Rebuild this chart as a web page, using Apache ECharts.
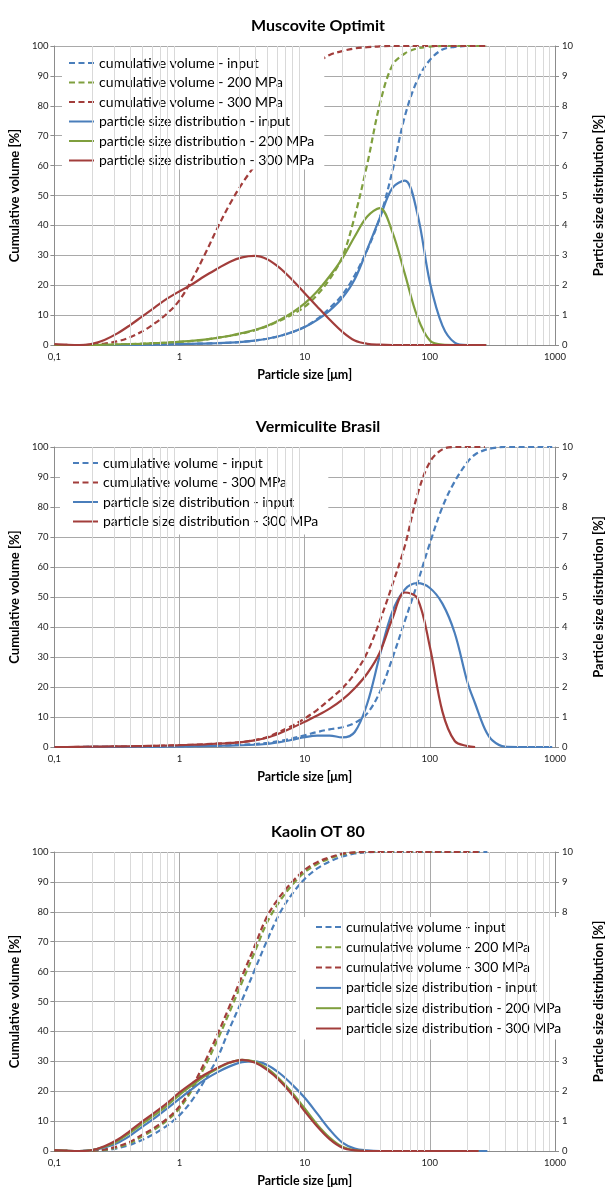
<!DOCTYPE html>
<html lang="en">
<head>
    <meta charset="UTF-8">
    <title>Particle size</title>
    <script src="https://cdn.jsdelivr.net/npm/echarts@6/dist/echarts.min.js"></script>
    <style>
        html, body {
            margin: 0;
            padding: 0;
            background: #fff;
        }
    </style>
</head>
<body>
<div id="main" style="width: 613px;height: 1189px;"></div>
</body>
</html>
<script>
    // ---- Muscovite Optimit ----
    var sizes1 = [0.1, 0.126, 0.158, 0.2, 0.251, 0.316, 0.398, 0.501, 0.631, 0.794, 1, 1.26, 1.58, 2, 2.51, 3.16, 3.98, 5.01, 6.31, 7.94,
        10, 12.6, 15.8, 20, 25.1, 31.6, 39.8, 50.1, 63.1, 79.4, 100, 126, 158, 200, 251, 282];
    var cumInput1 = [0, 0, 0, 0, 0, 0, 0.05, 0.1, 0.15, 0.22, 0.3, 0.38, 0.48, 0.6, 0.78, 1.05, 1.45, 2.1, 3.0, 4.3,
        6.1, 8.7, 12.3, 16.8, 23.3, 31.8, 42.5, 58, 76.5, 88.6, 95.3, 98.8, 99.7, 100, 100, 100];
    var cum200_1 = [0, 0, 0, 0, 0.1, 0.2, 0.3, 0.45, 0.6, 0.8, 1.05, 1.35, 1.7, 2.4, 3.0, 3.8, 4.9, 6.3, 8.1, 10.2,
        12.8, 16.8, 22, 29.5, 43, 60.5, 80.5, 93.5, 97.5, 99.2, 99.8, 100, 100, 100, 100, 100];
    var cum300_1 = [0, 0, 0, 0.1, 0.5, 1.2, 2.5, 4.5, 7.2, 10.5, 15, 22, 30, 39, 47, 54, 60, 66.5, 74, 82,
        90, 94.3, 97, 98.3, 99.2, 99.6, 99.9, 100, 100, 100, 100, 100, 100, 100, 100, 100];
    var psdInput1 = [0, 0, 0, 0, 0, 0, 0.005, 0.01, 0.015, 0.022, 0.03, 0.038, 0.048, 0.06, 0.078, 0.105, 0.145, 0.21, 0.3, 0.43,
        0.6, 0.84, 1.15, 1.58, 2.2, 3.2, 4.25, 5.25, 5.5, 4.4, 2.1, 0.65, 0.08, 0, 0, 0];
    var psd200_1 = [0, 0, 0, 0, 0.01, 0.02, 0.03, 0.04, 0.06, 0.08, 0.11, 0.14, 0.18, 0.24, 0.31, 0.4, 0.5, 0.64, 0.84, 1.08,
        1.39, 1.8, 2.3, 2.9, 3.63, 4.3, 4.58, 3.78, 2.38, 0.95, 0.15, 0.01, 0, 0, 0, 0];
    var psd300_1 = [0.03, 0.01, 0, 0.04, 0.17, 0.38, 0.65, 0.95, 1.25, 1.55, 1.8, 2.03, 2.3, 2.55, 2.78, 2.93, 2.98, 2.87, 2.58, 2.18,
        1.73, 1.28, 0.85, 0.44, 0.15, 0.04, 0.01, 0, 0, 0, 0, 0, 0, 0, 0, 0];

    // ---- Vermiculite Brasil ----
    var sizes2 = [0.1, 0.126, 0.158, 0.2, 0.251, 0.316, 0.398, 0.501, 0.631, 0.794, 1, 1.26, 1.58, 2, 2.51, 3.16, 3.98, 5.01, 6.31, 7.94,
        10, 12.6, 15.8, 20, 25.1, 31.6, 39.8, 50.1, 63.1, 79.4, 100, 126, 158, 200, 230, 275, 316, 398, 501, 631, 794, 950];
    var cumInput2 = [0, 0, 0, 0.02, 0.04, 0.06, 0.08, 0.1, 0.13, 0.16, 0.2, 0.26, 0.34, 0.45, 0.6, 0.8, 1.0, 1.35, 2.0, 2.9,
        3.9, 5.0, 5.9, 6.6, 8.0, 11.2, 18.3, 29.5, 42, 54.5, 67.9, 80, 88.5, 95, 97.5, 99, 99.6, 100, 100, 100, 100, 100];
    var cum300_2 = [0, 0, 0.02, 0.05, 0.08, 0.12, 0.18, 0.25, 0.35, 0.47, 0.6, 0.75, 0.92, 1.12, 1.35, 1.65, 2.3, 3.3, 5.1, 7.1,
        9.5, 12.4, 15.8, 19.6, 24.5, 31.5, 42, 54, 67, 84, 95, 99.2, 100, 100, 100, 100, null, null, null, null, null, null];
    var psdInput2 = [0, 0, 0, 0.003, 0.005, 0.007, 0.009, 0.011, 0.014, 0.017, 0.02, 0.025, 0.03, 0.038, 0.047, 0.058, 0.075, 0.1, 0.16, 0.24,
        0.33, 0.38, 0.38, 0.32, 0.5, 1.45, 3.05, 4.5, 5.25, 5.46, 5.3, 4.78, 3.8, 2.15, 1.45, 0.6, 0.22, 0.01, 0, 0, 0, 0];
    var psd300_2 = [0, 0, 0.005, 0.01, 0.015, 0.02, 0.025, 0.03, 0.04, 0.05, 0.06, 0.075, 0.09, 0.11, 0.13, 0.165, 0.22, 0.31, 0.46, 0.64,
        0.84, 1.05, 1.28, 1.58, 1.96, 2.45, 3.15, 4.27, 5.15, 4.96, 3.34, 1.18, 0.2, 0.03, 0, null, null, null, null, null, null, null];

    // ---- Kaolin OT 80 ----
    var sizes3 = [0.1, 0.126, 0.158, 0.2, 0.251, 0.316, 0.398, 0.501, 0.631, 0.794, 1, 1.26, 1.58, 2, 2.51, 3.16, 3.98, 5.01, 6.31, 7.94,
        10, 12.6, 15.8, 20, 25.1, 31.6, 39.8, 50.1, 63.1, 79.4, 100, 126, 158, 200, 245, 288];
    var cumInput3 = [0, 0, 0, 0.1, 0.3, 0.9, 2, 3.7, 5.8, 8.5, 12, 17, 23.5, 31, 41, 50.5, 60.5, 70.5, 79.5, 86,
        91, 94.5, 96.8, 98.5, 99.5, 99.9, 100, 100, 100, 100, 100, 100, 100, 100, 100, 100];
    var cum200_3 = [0, 0, 0, 0.1, 0.4, 1.2, 2.6, 4.8, 7.2, 10.2, 14.3, 20.5, 28, 37, 46.5, 56.5, 66.5, 76.5, 83.5, 89,
        93.3, 96, 97.8, 99.2, 99.8, 100, 100, 100, 100, 100, 100, 100, 100, 100, 100, null];
    var cum300_3 = [0, 0, 0, 0.1, 0.5, 1.5, 3, 5.4, 7.8, 10.8, 15, 21.5, 29.5, 38.8, 48.5, 58.5, 68.5, 78.5, 85, 90,
        94, 96.6, 98.2, 99.4, 99.9, 100, 100, 100, 100, 100, 100, 100, 100, 100, 100, null];
    var psdInput3 = [0.03, 0.01, 0, 0.03, 0.12, 0.26, 0.5, 0.8, 1.1, 1.42, 1.75, 2.08, 2.38, 2.63, 2.83, 2.97, 3.0, 2.88, 2.6, 2.22,
        1.78, 1.25, 0.72, 0.28, 0.08, 0.02, 0, 0, 0, 0, 0, 0, 0, 0, 0, 0];
    var psd200_3 = [0.03, 0.01, 0, 0.03, 0.14, 0.32, 0.6, 0.9, 1.2, 1.52, 1.88, 2.2, 2.5, 2.75, 2.95, 3.05, 2.99, 2.76, 2.4, 1.95,
        1.42, 0.88, 0.45, 0.14, 0.03, 0, 0, 0, 0, 0, 0, 0, 0, 0, 0, null];
    var psd300_3 = [0.03, 0.01, 0, 0.03, 0.16, 0.37, 0.66, 0.98, 1.28, 1.6, 1.96, 2.27, 2.55, 2.78, 2.96, 3.05, 2.96, 2.71, 2.35, 1.88,
        1.33, 0.82, 0.4, 0.11, 0.02, 0, 0, 0, 0, 0, 0, 0, 0, 0, 0, null];

    var titles = ['Muscovite Optimit', 'Vermiculite Brasil', 'Kaolin OT 80'];
    var minorX = [0.2, 0.3, 0.4, 0.5, 0.6, 0.7, 0.8, 0.9, 2, 3, 4, 5, 6, 7, 8, 9,
        20, 30, 40, 50, 60, 70, 80, 90, 200, 300, 400, 500, 600, 700, 800, 900];

    var names = {
        cIn: 'cumulative volume - input',
        c200: 'cumulative volume - 200 MPa',
        c300: 'cumulative volume - 300 MPa',
        pIn: 'particle size distribution - input',
        p200: 'particle size distribution - 200 MPa',
        p300: 'particle size distribution - 300 MPa'
    };

    var BLUE = '#4a7ebb', GREEN = '#7f9f3e', RED = '#a23d3b';
    var FONT = 'Lato, "Liberation Sans", sans-serif';
    var GRID_C = '#a9a9a9', MINOR_C = '#d9d9d9';

    // 画布上每个子图的位置
    var grids = [
        {left: 53, right: 40, top: 46, height: 299},
        {left: 53, right: 40, top: 447, height: 300},
        {left: 54, right: 39, top: 852, height: 299}
    ];

    function pairs(xs, ys) {
        var out = [];
        for (var i = 0; i < xs.length; i++) {
            if (ys[i] !== null && ys[i] !== undefined) out.push([xs[i], ys[i]]);
        }
        return out;
    }

    function line(name, g, right, xs, ys, color, dashed) {
        return {
            name: name,
            type: 'line',
            xAxisIndex: g,
            yAxisIndex: g * 2 + (right ? 1 : 0),
            data: pairs(xs, ys),
            smooth: 0.35,
            showSymbol: false,
            symbol: 'none',
            silent: true,
            z: 3,
            lineStyle: {color: color, width: 2.2, type: dashed ? [6, 3.5] : 'solid'},
            itemStyle: {color: color}
        };
    }

    // 次刻度的竖线 (2..9)
    function minorSeries(g) {
        return {
            type: 'line',
            xAxisIndex: g,
            yAxisIndex: g * 2,
            data: [],
            silent: true,
            z: 1,
            markLine: {
                silent: true,
                symbol: 'none',
                label: {show: false},
                lineStyle: {color: MINOR_C, type: 'solid', width: 1},
                animation: false,
                data: minorX.map(function (v) {
                    return {xAxis: v};
                })
            }
        };
    }

    var xAxes = [], yAxes = [], titleOpts = [];
    for (var g = 0; g < 3; g++) {
        xAxes.push({
            type: 'log',
            logBase: 10,
            gridIndex: g,
            min: 0.1,
            max: 1000,
            name: 'Particle size [μm]',
            nameLocation: 'middle',
            nameGap: 23,
            nameTextStyle: {fontFamily: FONT, fontWeight: 'bold', fontSize: 12.5, color: '#000'},
            axisLine: {show: true, lineStyle: {color: '#8c8c8c', width: 1}},
            axisTick: {show: false},
            axisLabel: {
                fontFamily: FONT, fontSize: 9.5, color: '#222', margin: 7,
                formatter: function (v) {
                    return Math.abs(v - 0.1) < 1e-6 ? '0,1' : String(Math.round(v));
                }
            },
            splitLine: {show: true, lineStyle: {color: GRID_C, width: 1}}
        });
        yAxes.push({
            type: 'value',
            gridIndex: g,
            position: 'left',
            min: 0,
            max: 100,
            interval: 10,
            name: 'Cumulative volume [%]',
            nameLocation: 'middle',
            nameRotate: 90,
            nameGap: 26,
            nameTextStyle: {fontFamily: FONT, fontWeight: 'bold', fontSize: 13, color: '#000'},
            axisLine: {show: true, lineStyle: {color: '#8c8c8c', width: 1}},
            axisTick: {show: true, length: 4, lineStyle: {color: '#8c8c8c'}},
            axisLabel: {fontFamily: FONT, fontSize: 9.5, color: '#222', margin: 6},
            splitLine: {show: true, lineStyle: {color: GRID_C, width: 1}}
        });
        yAxes.push({
            type: 'value',
            gridIndex: g,
            position: 'right',
            min: 0,
            max: 10,
            interval: 1,
            name: 'Particle size distribution [%]',
            nameLocation: 'middle',
            nameRotate: 90,
            nameGap: 37,
            nameTextStyle: {fontFamily: FONT, fontWeight: 'bold', fontSize: 13, color: '#000'},
            axisLine: {show: true, lineStyle: {color: '#8c8c8c', width: 1}},
            axisTick: {show: true, length: 4, lineStyle: {color: '#8c8c8c'}},
            axisLabel: {fontFamily: FONT, fontSize: 9.5, color: '#222', margin: 7},
            splitLine: {show: false}
        });
        titleOpts.push({
            text: titles[g],
            left: 313,
            textAlign: 'center',
            top: grids[g].top - 33,
            textStyle: {fontFamily: FONT, fontWeight: 'bold', fontSize: 16, color: '#000'}
        });
    }

    var series = [
        minorSeries(0), minorSeries(1), minorSeries(2),
        // Muscovite
        line(names.cIn, 0, false, sizes1, cumInput1, BLUE, true),
        line(names.c200, 0, false, sizes1, cum200_1, GREEN, true),
        line(names.c300, 0, false, sizes1, cum300_1, RED, true),
        line(names.pIn, 0, true, sizes1, psdInput1, BLUE, false),
        line(names.p200, 0, true, sizes1, psd200_1, GREEN, false),
        line(names.p300, 0, true, sizes1, psd300_1, RED, false),
        // Vermiculite
        line(names.cIn, 1, false, sizes2, cumInput2, BLUE, true),
        line(names.c300, 1, false, sizes2, cum300_2, RED, true),
        line(names.pIn, 1, true, sizes2, psdInput2, BLUE, false),
        line(names.p300, 1, true, sizes2, psd300_2, RED, false),
        // Kaolin
        line(names.cIn, 2, false, sizes3, cumInput3, BLUE, true),
        line(names.c200, 2, false, sizes3, cum200_3, GREEN, true),
        line(names.c300, 2, false, sizes3, cum300_3, RED, true),
        line(names.pIn, 2, true, sizes3, psdInput3, BLUE, false),
        line(names.p200, 2, true, sizes3, psd200_3, GREEN, false),
        line(names.p300, 2, true, sizes3, psd300_3, RED, false)
    ];

    function legend(data, left, top, padding, gap) {
        return {
            data: data,
            orient: 'vertical',
            left: left,
            top: top,
            padding: padding,
            itemWidth: 25,
            itemHeight: 14,
            itemGap: gap,
            backgroundColor: '#fff',
            selectedMode: false,
            z: 5,
            itemStyle: {opacity: 0},
            textStyle: {fontFamily: FONT, fontSize: 14, color: '#000', lineHeight: 14}
        };
    }

    var all6 = [names.cIn, names.c200, names.c300, names.pIn, names.p200, names.p300];

    var option = {
        animation: false,
        backgroundColor: '#fff',
        title: titleOpts,
        grid: grids,
        xAxis: xAxes,
        yAxis: yAxes,
        legend: [
            legend(all6, 62, 47, [9, 10, 2, 6], 5.5),
            legend([names.cIn, names.c300, names.pIn, names.p300], 60, 448, [8, 10, 6, 12], 5.5),
            legend(all6, 296, 917, [3, 10, 4, 19], 6.3)
        ],
        series: series
    };

    var myChart = echarts.init(document.getElementById('main'));
    myChart.setOption(option);
</script>
